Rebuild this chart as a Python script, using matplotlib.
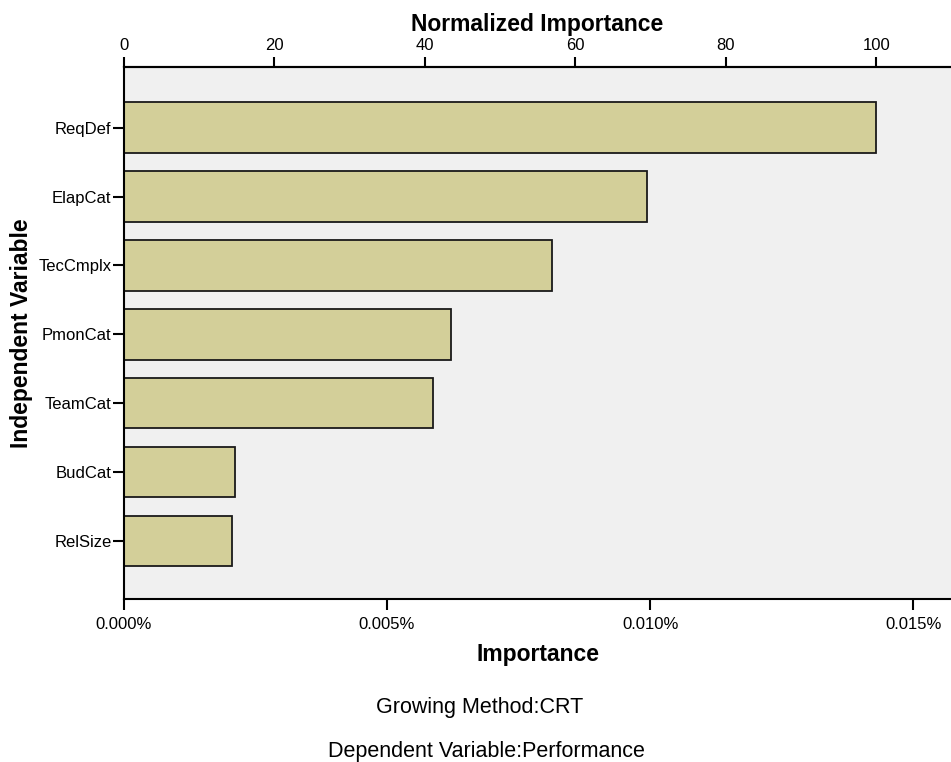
import matplotlib
matplotlib.use("Agg")
import matplotlib.pyplot as plt
from matplotlib.ticker import FuncFormatter

plt.rcParams['font.family'] = ['Liberation Sans', 'DejaVu Sans']

# Datos (importancia en %)
variables = ['ReqDef', 'ElapCat', 'TecCmplx', 'PmonCat', 'TeamCat', 'BudCat', 'RelSize']
importancia = [0.01430, 0.00994, 0.00814, 0.00622, 0.00587, 0.00211, 0.00205]
ticks_imp = [0.000, 0.005, 0.010, 0.015]
ticks_norm = [0, 20, 40, 60, 80, 100]

max_imp = max(importancia)

fig = plt.figure(figsize=(9.51, 7.62), dpi=100)
ax = fig.add_axes([124 / 951, 163 / 762, 1 - 124 / 951, (599 - 67) / 762])
ax.set_facecolor('#f0f0f0')

pos = list(range(len(variables)))
ax.barh(pos, importancia, height=0.73, color='#d3cf99', edgecolor='#1a1a1a', linewidth=1.3)

ax.set_ylim(6.84, -0.88)
ax.set_xlim(0, 0.01572)
ax.set_yticks(pos)
ax.set_yticklabels(variables, fontsize=12)
ax.set_xticks(ticks_imp)
ax.xaxis.set_major_formatter(FuncFormatter(lambda v, p: f'{v:.3f}%'))
ax.tick_params(axis='x', labelsize=12, length=8, width=1.5, pad=5)
ax.tick_params(axis='y', length=8, width=1.5, pad=1)

for lado in ['left', 'bottom', 'top']:
    ax.spines[lado].set_linewidth(1.5)
ax.spines['right'].set_visible(False)

ax.set_xlabel('Importance', fontsize=16.5, fontweight='bold', labelpad=8)
ax.set_ylabel('Independent Variable', fontsize=16.5, fontweight='bold', labelpad=4)

# Eje superior con importancia normalizada
top = ax.secondary_xaxis('top', functions=(lambda v: v / max_imp * 100, lambda n: n * max_imp / 100))
top.set_xticks(ticks_norm)
top.tick_params(labelsize=12, length=7, width=1.5, pad=3)
top.spines['top'].set_linewidth(1.5)
top.set_xlabel('Normalized Importance', fontsize=16.5, fontweight='bold', labelpad=5)

fig.text(480 / 951, 1 - 707 / 762, 'Growing Method:CRT', fontsize=15.5, ha='center', va='center')
fig.text(486 / 951, 1 - 752 / 762, 'Dependent Variable:Performance', fontsize=15.5, ha='center', va='center')

fig.savefig('out.png', dpi=100)
